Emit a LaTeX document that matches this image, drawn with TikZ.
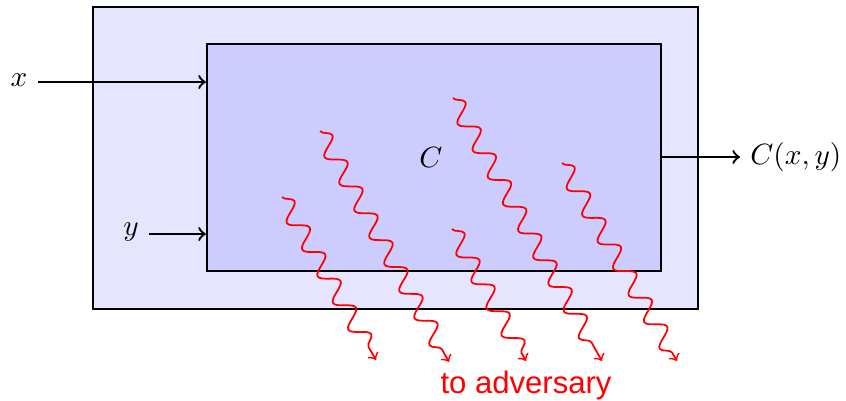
\documentclass[tikz,border=0pt]{standalone}
\usepackage{fontspec}
\newfontfamily\advfont{Liberation Sans}
\usetikzlibrary{decorations.pathmorphing,fit}
\begin{document}
\begin{tikzpicture}[x=0.012cm,y=-0.012cm,
  outerbox/.style={draw=black,thick,fill=blue!10,inner sep=0pt},
  innerbox/.style={draw=black,thick,fill=blue!20,inner sep=0pt},
  conn/.style={->,thick},
  wavy/.style={->,red,semithick,decorate,decoration={snake,amplitude=3pt,segment length=10.5pt,post length=2pt}},
  lbl/.style={inner sep=3.33pt}]
\useasboundingbox (0,0) rectangle (846,401);
\coordinate (o1) at (93,7);
\coordinate (o2) at (698,309);
\node[outerbox,fit=(o1)(o2)] (outer) {};
\coordinate (i1) at (207,44);
\coordinate (i2) at (661,271);
\node[innerbox,fit=(i1)(i2)] (inner) {};
\node (clabel) at (431,157) {$C$};
\node[lbl] (xl) at (19,80) {$x$};
\node[lbl] (yl) at (131,232) {$y$};
\node[lbl,anchor=west] (out) at (740,157) {$C(x,y)$};
\draw[conn] (xl.east |- 0,82) -- (inner.west |- 0,82);
\draw[conn] (yl.east |- 0,234) -- (inner.west |- 0,234);
\draw[conn] (inner.east |- out.west) -- (out.west);
\coordinate (s1) at (282,197); \coordinate (e1) at (376,360);
\coordinate (s2) at (320,131); \coordinate (e2) at (449,362);
\coordinate (s3) at (452,229); \coordinate (e3) at (526,361);
\coordinate (s4) at (453,98);  \coordinate (e4) at (602,361);
\coordinate (s5) at (562,163); \coordinate (e5) at (677,361);
\foreach \i in {1,...,5} {\draw[wavy] (s\i) -- (e\i);}
\node[red,font=\advfont\fontsize{10.6}{12}\selectfont] (adv) at (526,385) {to adversary};
\end{tikzpicture}
\end{document}
